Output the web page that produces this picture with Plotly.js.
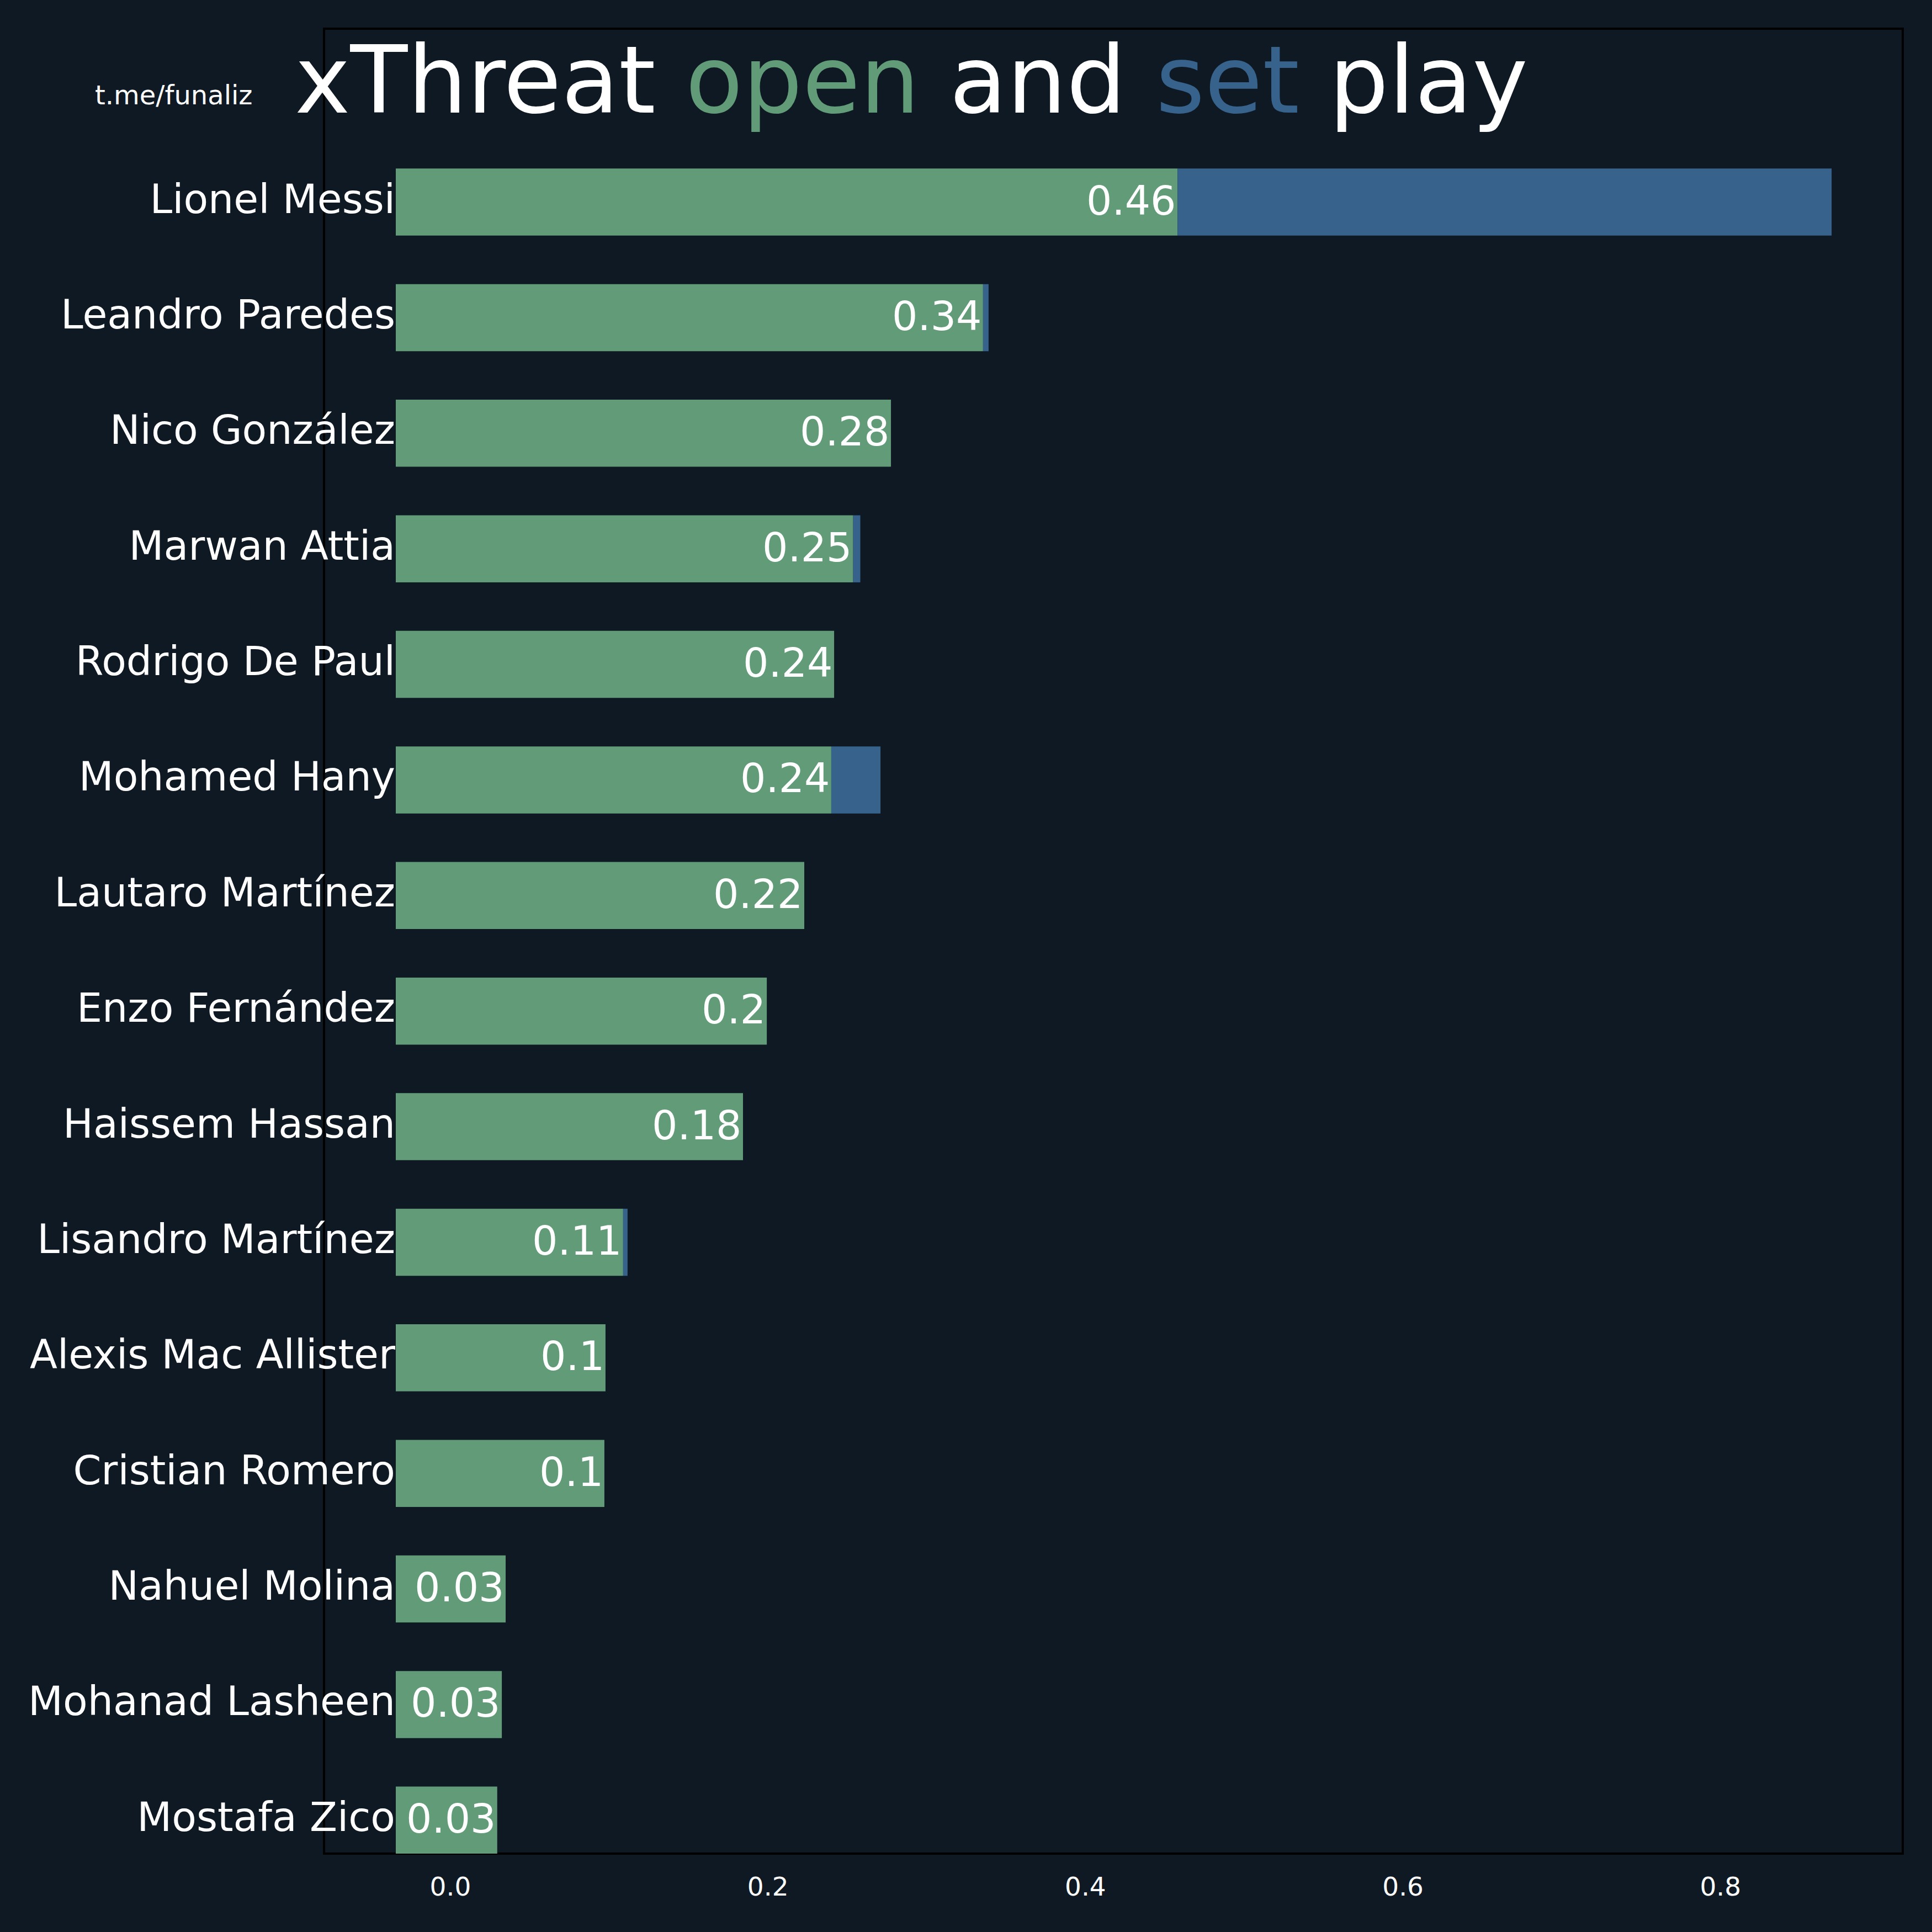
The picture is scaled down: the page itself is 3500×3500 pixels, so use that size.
<!DOCTYPE html>
<html>
<head>
<meta charset="utf-8">
<script src="https://cdn.plot.ly/plotly-3.0.1.min.js"></script>
<style>
  html, body { margin: 0; padding: 0; background: #0f1923; }
</style>
</head>
<body>
<div id="chart" style="width:3500px;height:3500px;"></div>
<script>
  // players, top to bottom
  const players = [
    "Lionel Messi", "Leandro Paredes", "Nico González", "Marwan Attia",
    "Rodrigo De Paul", "Mohamed Hany", "Lautaro Martínez", "Enzo Fernández",
    "Haissem Hassan", "Lisandro Martínez", "Alexis Mac Allister",
    "Cristian Romero", "Nahuel Molina", "Mohanad Lasheen", "Mostafa Zico"
  ];
  // xThreat from open play
  const openPlay = [
    0.458, 0.3355, 0.2775, 0.2537, 0.2417, 0.2399, 0.2229, 0.1993,
    0.1843, 0.1088, 0.0977, 0.0970, 0.0348, 0.0324, 0.0295
  ];
  // xThreat from set play
  const setPlay = [
    0.412, 0.0035, 0, 0.0045, 0, 0.031, 0, 0,
    0, 0.0028, 0, 0, 0, 0, 0
  ];
  const xTicks = [0, 0.2, 0.4, 0.6, 0.8];

  const BG = "#0f1923";
  const GREEN = "#619b78";
  const BLUE = "#36628b";
  const FONT = "DejaVu Sans, Liberation Sans, sans-serif";

  // bars start at the left edge of the x range, not at 0 (as in the original)
  const X_START = -0.0344;
  const X_END = 0.9148;

  let openTrace = {
    type: 'bar',
    orientation: 'h',
    y: players,
    x: openPlay.map(v => v - X_START),
    base: X_START,
    width: 0.58,
    marker: {color: GREEN, line: {width: 0}},
    hoverinfo: 'skip',
  };
  let setTrace = {
    type: 'bar',
    orientation: 'h',
    y: players,
    x: setPlay,
    base: openPlay,
    width: 0.58,
    marker: {color: BLUE, line: {width: 0}},
    hoverinfo: 'skip',
  };

  // value labels at the end of the green bars
  let valueLabels = players.map((p, i) => ({
    x: openPlay[i],
    y: p,
    xref: 'x', yref: 'y',
    xanchor: 'right', yanchor: 'middle',
    yshift: 3,
    text: String(Math.round(openPlay[i] * 100) / 100),
    showarrow: false,
    font: {family: FONT, size: 73, color: '#ffffff'},
  }));

  let layout = {
    width: 3500,
    height: 3500,
    paper_bgcolor: BG,
    plot_bgcolor: BG,
    margin: {l: 717, r: 53, t: 52, b: 142, pad: 0},
    barmode: 'overlay',
    showlegend: false,
    font: {family: FONT, color: '#ffffff'},
    xaxis: {
      range: [X_START, X_END],
      tickvals: xTicks,
      tickformat: '.1f',
      ticks: '',
      showgrid: false,
      zeroline: false,
      showline: false,
      ticklabelstandoff: 28,
      tickfont: {family: FONT, size: 47, color: '#ffffff'},
    },
    yaxis: {
      type: 'category',
      categoryorder: 'array',
      categoryarray: players.slice().reverse(),
      range: [-0.29, 15.5],
      ticks: '',
      showgrid: false,
      zeroline: false,
      showline: false,
      ticklabelstandoff: 0,
      ticklabelshift: -6,
      tickfont: {family: FONT, size: 73, color: '#ffffff'},
    },
    shapes: [{
      // the axes frame, which reaches further left than the bars
      type: 'rect', xref: 'paper', yref: 'paper',
      x0: -0.0476, x1: 1, y0: 0, y1: 1,
      line: {color: '#000000', width: 4},
      layer: 'below',
    }],
    annotations: valueLabels.concat([
      {
        xref: 'paper', yref: 'paper',
        x: 0.3421, y: 0.9719,
        xanchor: 'center', yanchor: 'middle',
        text: 'xThreat <span style="color:' + GREEN + '">open</span> and ' +
              '<span style="color:' + BLUE + '">set</span> play',
        showarrow: false,
        font: {family: FONT, size: 170, color: '#ffffff'},
      },
      {
        xref: 'paper', yref: 'paper',
        x: -0.1473, y: 0.9637,
        xanchor: 'center', yanchor: 'middle',
        text: 't.me/funaliz',
        showarrow: false,
        font: {family: FONT, size: 48, color: '#ffffff'},
      },
    ]),
  };

  Plotly.newPlot('chart', [openTrace, setTrace], layout, {displayModeBar: false, staticPlot: true});
</script>
</body>
</html>
